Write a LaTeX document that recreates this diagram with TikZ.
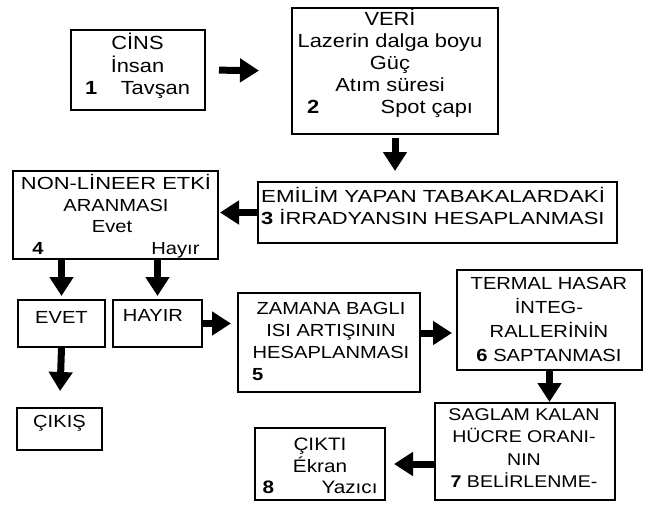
\documentclass[tikz,border=0pt]{standalone}
\usepackage{graphicx}
\usepackage{fontspec}
\setmainfont{Liberation Sans}[FakeStretch=1.15]
\usetikzlibrary{arrows.meta,fit,calc}
\tikzset{
  box/.style={draw, line width=2pt, inner sep=0pt},
  txt/.style={align=center, inner sep=0pt, font=\fontsize{17.5}{22}\selectfont},
  fat/.style={line width=7pt, -{Triangle[width=23pt,length=19pt]}},
}
\begin{document}
\begin{tikzpicture}[x=1pt,y=-1pt]
\useasboundingbox (0,0) rectangle (646,504);
% boxes
\node[box, fit={(71,30) (205,110)}] (b1) {};
\node[box, fit={(292,8) (498,134)}] (b2) {};
\node[box, fit={(258,182) (617,243)}] (b3) {};
\node[box, fit={(13,171) (218,259)}] (b4) {};
\node[box, fit={(18,300) (105,347)}] (bE) {};
\node[box, fit={(113,300) (202,347)}] (bH) {};
\node[box, fit={(17,408) (102,450)}] (bC) {};
\node[box, fit={(238,293) (420,392)}] (b5) {};
\node[box, fit={(457,270) (642,370)}] (b6) {};
\node[box, fit={(435,403) (615,500)}] (b7) {};
\node[box, fit={(255,428) (385,500)}] (b8) {};
% texts
\node[txt, font=\fontsize{19}{22.5}\selectfont] (t1) at (137.5,66) {CİNS\\İnsan\\\makebox[105pt]{\textbf{1}\hfill Tavşan}};
\node[txt, font=\fontsize{19}{22}\selectfont] (t2) at (390,63) {VERİ\\Lazerin dalga boyu\\Güç\\Atım süresi\\\makebox[166pt]{\textbf{2}\hfill Spot çapı}};
\node[txt, align=left, anchor=west] (t3) at (261,206) {\scalebox{1.11}[1]{EMİLİM YAPAN TABAKALARDAKİ}\\\scalebox{1.09}[1]{\textbf{3} İRRADYANSIN HESAPLANMASI}};
\node[txt, font=\fontsize{17.5}{21.5}\selectfont] (t4) at (116,216) {\scalebox{1.09}[1]{NON-LİNEER ETKİ}\\ARANMASI\\\hspace*{-8pt}Evet\\\makebox[167pt]{\textbf{4}\hfill Hayır}};
\node[txt] (tE) at (61.5,317) {EVET};
\node[txt] (tH) at (153,315) {HAYIR};
\node[txt] (tC) at (59.5,423) {ÇIKIŞ};
\node[txt, font=\fontsize{17.5}{22}\selectfont] (t5) at (331,341) {ZAMANA BAGLI\\ISI ARTIŞININ\\HESAPLANMASI\\\makebox[158pt][l]{\textbf{5}}};
\node[txt, font=\fontsize{17.5}{24}\selectfont] (t6) at (549,319) {TERMAL HASAR\\İNTEG-\\RALLERİNİN\\\textbf{6} SAPTANMASI};
\node[txt, font=\fontsize{17}{22.3}\selectfont] (t7) at (524,448) {SAGLAM KALAN\\HÜCRE ORANI-\\NIN\\\textbf{7} BELİRLENME-};
\node[txt, font=\fontsize{18}{21.5}\selectfont] (t8) at (320,466) {ÇIKTI\\Ékran\\\makebox[115pt]{\textbf{8}\hfill Yazıcı}};
% arrows
\coordinate (a56) at ($(b5.east)+(0,-9.5)$);
\draw[fat, shorten <=13pt, shorten >=32pt] (b1.east) -- (b2.west);
\draw[fat, shorten <=3pt, shorten >=10pt] (b2.south) -- (b2.south |- b3.north);
\draw[fat, shorten >=1pt] (b3.west) -- (b3.west -| b4.east);
\draw[fat, shorten >=3pt] (bE.north |- b4.south) -- (bE.north);
\draw[fat, shorten >=3pt] (bH.north |- b4.south) -- (bH.north);
\draw[fat, shorten >=16pt] (bE.south) -- (bC.north);
\draw[fat, shorten >=6pt] (bH.east) -- (bH.east -| b5.west);
\draw[fat, shorten >=4pt] (a56) -- (a56 -| b6.west);
\draw[fat] (b6.south) -- (b6.south |- b7.north);
\draw[fat, shorten >=8pt] (b7.west |- b8.east) -- (b8.east);
\end{tikzpicture}
\end{document}
